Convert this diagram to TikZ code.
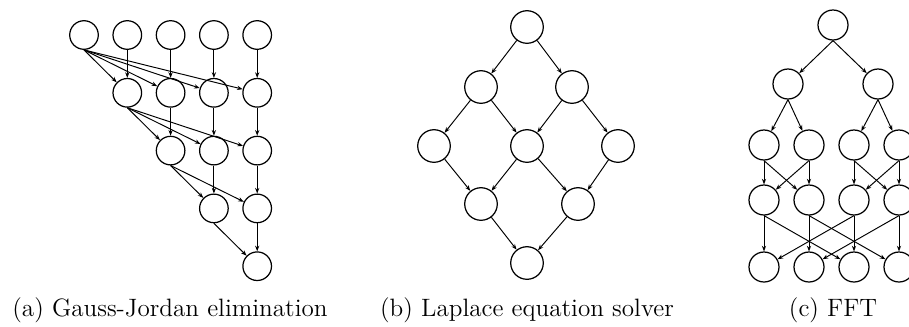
\documentclass[tikz,border=0pt]{standalone}
\usetikzlibrary{arrows.meta}
\begin{document}
\begin{tikzpicture}[x=0.02cm, y=-0.02cm,
  vertex/.style={circle, draw, line width=0.7pt, inner sep=0pt},
  gnode/.style={vertex, minimum size=0.572cm},
  lnode/.style={vertex, minimum size=0.652cm},
  fnode/.style={vertex, minimum size=0.6cm},
  arc/.style={draw, line width=0.55pt, -{Stealth[length=3.2pt, width=2.4pt]}},
  caption/.style={anchor=base, inner sep=0pt, font=\fontsize{14.3}{17}\selectfont},
]
\useasboundingbox (0,0) rectangle (909,326);
\foreach \c in {0,...,4}
  \node[gnode] (g0\c) at ({84+43.3*\c},35) {};
\foreach \r in {1,...,4}
  \foreach \c in {\r,...,4}
    \node[gnode] (g\r\c) at ({84+43.3*\c},{35+57.8*\r}) {};
\foreach \r [count=\s] in {0,...,3}
  \foreach \c in {\s,...,4} {
    \draw[arc] (g\r\r.south) -- (g\s\c);
    \draw[arc] (g\r\c) -- (g\s\c);
  }
\node[lnode] (l1) at (527,27) {};
\node[lnode] (l2) at (481,87) {};
\node[lnode] (l3) at (572,87) {};
\node[lnode] (l4) at (434,146) {};
\node[lnode] (l5) at (527,146) {};
\node[lnode] (l6) at (618,146) {};
\node[lnode] (l7) at (481,204) {};
\node[lnode] (l8) at (578,204) {};
\node[lnode] (l9) at (527,263) {};
\foreach \a/\b in {1/2,1/3,2/4,2/5,3/5,3/6,4/7,5/7,5/8,6/8,7/9,8/9}
  \draw[arc] (l\a) -- (l\b);
\node[fnode] (f0) at (833,25) {};
\node[fnode] (f10) at (788,84) {};
\node[fnode] (f11) at (878,84) {};
\foreach \c/\x in {0/764,1/809,2/854,3/899} {
  \node[fnode] (f2\c) at (\x,145) {};
  \node[fnode] (f3\c) at (\x,200) {};
  \node[fnode] (f4\c) at (\x,267) {};
}
\draw[arc] (f0.south) -- (f10);
\draw[arc] (f0.south) -- (f11);
\foreach \a/\b in {0/0,0/1,1/2,1/3}
  \draw[arc] (f1\a.south) -- (f2\b);
\foreach \a/\b in {0/0,0/1,1/0,1/1,2/2,2/3,3/2,3/3}
  \draw[arc] (f2\a.south) -- (f3\b);
\foreach \a/\b in {0/0,0/2,1/1,1/3,2/2,2/0,3/3,3/1}
  \draw[arc] (f3\a.south) -- (f4\b);
\node[caption] (capa) at (170,316) {(a) Gauss-Jordan elimination};
\node[caption] (capb) at (527,316) {(b) Laplace equation solver};
\node[caption] (capc) at (833,316) {(c) FFT};
\end{tikzpicture}
\end{document}
